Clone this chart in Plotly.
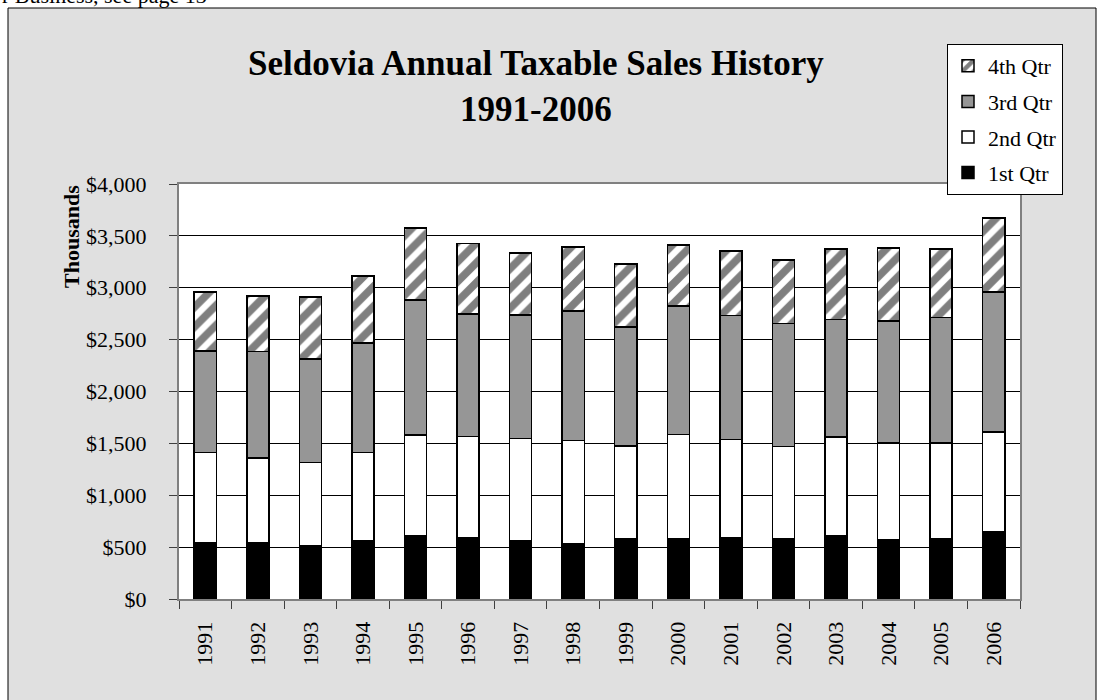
import plotly.graph_objects as go

years = [str(y) for y in range(1991, 2007)]
q1 = [542, 546, 517, 559, 610, 591, 559, 536, 578, 578, 591, 585, 607, 575, 585, 645]
q2 = [871, 815, 800, 854, 970, 976, 986, 992, 899, 1008, 947, 883, 954, 931, 918, 964]
q3 = [979, 1025, 995, 1056, 1304, 1182, 1194, 1247, 1147, 1237, 1195, 1188, 1134, 1172, 1211, 1349]
q4 = [568, 533, 597, 643, 690, 678, 594, 619, 603, 591, 623, 610, 677, 704, 658, 712]
names = ["1st Qtr", "2nd Qtr", "3rd Qtr", "4th Qtr"]

W, H = 1103, 700
L, R, T, B = 179, 83, 184, 101
PW, PH = W - L - R, H - T - B

def px(x):
    return (x - L) / PW

def py(y):
    return (H - B - y) / PH

FONT = "Liberation Serif, Times New Roman, serif"
line = dict(color="black", width=1.5)

fig = go.Figure()
fig.add_trace(go.Bar(x=years, y=q1, name=names[0], legendgroup="a", legendrank=4,
                     marker=dict(color="black", line=line)))
fig.add_trace(go.Bar(x=years, y=q2, name=names[1], legendgroup="b", legendrank=3,
                     marker=dict(color="white", line=line)))
fig.add_trace(go.Bar(x=years, y=q3, name=names[2], legendgroup="c", legendrank=2,
                     marker=dict(color="#969696", line=line)))
fig.add_trace(go.Bar(x=years, y=q4, name=names[3], legendgroup="d", legendrank=1,
                     marker=dict(color="white", line=line,
                                 pattern=dict(shape="/", fgcolor="black", bgcolor="white",
                                              size=14, solidity=0.55, fillmode="overlay"))))

fig.update_layout(
    width=W, height=H,
    margin=dict(l=L, r=R, t=T, b=B, pad=0, autoexpand=False),
    barmode="stack", bargap=0.58,
    paper_bgcolor="white", plot_bgcolor="white",
    font=dict(family=FONT, size=22, color="black"),
    showlegend=True,
    legend=dict(x=px(947), y=py(44), xanchor="left", yanchor="top",
                bgcolor="white", bordercolor="black", borderwidth=1,
                traceorder="grouped", tracegroupgap=4,
                font=dict(family=FONT, size=22, color="black")),
    shapes=[
        dict(type="rect", xref="paper", yref="paper", layer="below",
             x0=px(8), x1=px(1096), y0=py(760), y1=py(8),
             fillcolor="#e0e0e0", line=dict(color="black", width=1)),
        dict(type="rect", xref="paper", yref="paper", layer="below",
             x0=0, x1=1, y0=0, y1=1, fillcolor="white", line=dict(width=0)),
    ],
    annotations=[
        dict(text="<b>Seldovia Annual Taxable Sales History<br>1991-2006</b>",
             xref="paper", yref="paper", x=px(536), y=py(42), xanchor="center", yanchor="top",
             showarrow=False, font=dict(family=FONT, size=35, color="black")),
        dict(text="<b>Thousands</b>", textangle=-90,
             xref="paper", yref="paper", x=px(72), y=py(237), xanchor="center", yanchor="middle",
             showarrow=False, font=dict(family=FONT, size=22, color="black")),
        dict(text="r Business, see page 13",
             xref="paper", yref="paper", x=px(0), y=py(10), xanchor="left", yanchor="bottom",
             showarrow=False, font=dict(family=FONT, size=22, color="black")),
    ],
)

fig.update_xaxes(
    type="category", tickangle=-90, tickson="boundaries",
    ticks="outside", ticklen=8, tickcolor="#404040", tickwidth=1,
    ticklabelstandoff=12,
    showline=True, linecolor="#808080", linewidth=2, mirror=True,
    showgrid=False, tickfont=dict(family=FONT, size=22, color="black"),
)
fig.update_yaxes(
    range=[0, 4000], dtick=500, tickprefix="$", tickformat=",",
    ticks="outside", ticklen=8, tickcolor="#404040", tickwidth=1,
    ticklabelstandoff=18,
    showline=True, linecolor="#808080", linewidth=2, mirror=True,
    showgrid=True, gridcolor="black", gridwidth=1, zeroline=False,
    tickfont=dict(family=FONT, size=22, color="black"),
)

fig.write_html("out.html", config={"displayModeBar": False},
               post_script="document.body.style.margin='0';document.body.style.overflow='hidden';")
